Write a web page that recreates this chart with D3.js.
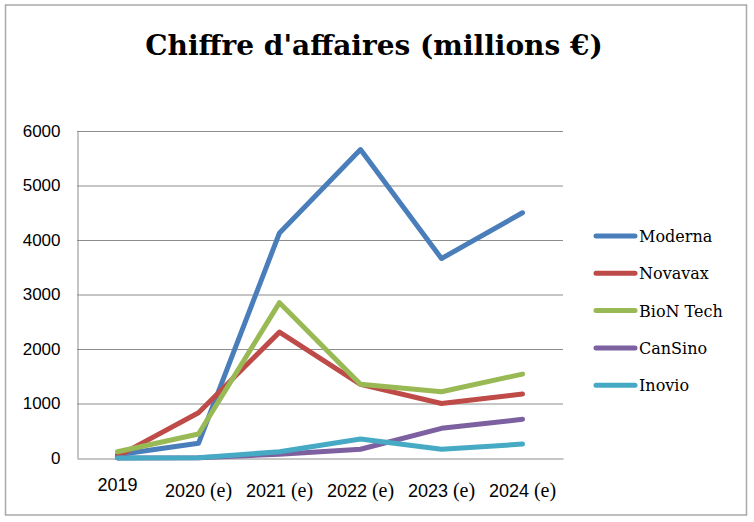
<!DOCTYPE html>
<html><head><meta charset="utf-8">
<script src="https://cdn.jsdelivr.net/npm/d3@7"></script>
<style>body{margin:0;background:#fff}svg{display:block}</style>
</head><body><svg id="c" width="754" height="522"></svg>
<script>
const categories = ["2019", "2020 (e)", "2021 (e)", "2022 (e)", "2023 (e)", "2024 (e)"];
const seriesNames = ["Moderna", "Novavax", "BioN Tech", "CanSino", "Inovio"];
const moderna  = [60, 270, 4130, 5660, 3660, 4500];
const novavax  = [30, 830, 2310, 1350, 1000, 1175];
const biontech = [115, 440, 2850, 1355, 1215, 1540];
const cansino  = [0, 5, 70, 160, 545, 710];
const inovio   = [0, 5, 115, 350, 160, 255];
const yTicks = [0, 1000, 2000, 3000, 4000, 5000, 6000];
const colors = ["#4a7ebb", "#be4b48", "#98b954", "#7d60a0", "#46aac5"];
const title = "Chiffre d'affaires (millions €)";

const values = [moderna, novavax, biontech, cansino, inovio];
const svg = d3.select("#c");
const margin = {left: 77, right: 563, top: 131, bottom: 458};

svg.append("rect").attr("x", 5.5).attr("y", 5).attr("width", 741).attr("height", 510)
  .attr("fill", "#fff").attr("stroke", "#a9a9a9").attr("stroke-width", 1.5);

svg.append("text").attr("x", 374).attr("y", 55).attr("text-anchor", "middle")
  .attr("font-family", "'DejaVu Serif', serif").attr("font-weight", "bold")
  .attr("font-size", 28).attr("fill", "#000").text(title);

const x = d3.scaleBand().domain(categories).range([margin.left, margin.right]);
const y = d3.scaleLinear().domain([0, 6000]).range([margin.bottom, margin.top]);

// gridlines
svg.append("g").selectAll("line").data(yTicks.filter(d => d > 0)).join("line")
  .attr("x1", margin.left).attr("x2", margin.right)
  .attr("y1", d => y(d) + 0.5).attr("y2", d => y(d) + 0.5)
  .attr("stroke", "#8c8c8c").attr("stroke-width", 1);

// y axis
const yAxis = svg.append("g").attr("transform", `translate(${margin.left + 0.5},0)`)
  .call(d3.axisLeft(y).tickValues(yTicks).tickSize(0).tickPadding(17).tickFormat(d3.format("d")));
yAxis.select(".domain").attr("stroke", "#8c8c8c");
yAxis.selectAll("text").attr("font-family", "'Liberation Sans', Arial, sans-serif")
  .attr("font-size", 17).attr("fill", "#000");

// x axis
const xAxis = svg.append("g").attr("transform", `translate(0,${margin.bottom + 0.5})`)
  .call(d3.axisBottom(x).tickSize(0).tickPadding(20));
xAxis.select(".domain").attr("stroke", "#8c8c8c");
xAxis.selectAll("text").attr("font-size", 18).attr("fill", "#000")
  .attr("dy", (d, i) => i === 0 ? "0.71em" : "1.0em")
  .each(function(d) {
    const t = d3.select(this);
    const parts = d.split(" ");
    t.text(null);
    t.append("tspan").attr("font-family", "'Liberation Sans', Arial, sans-serif").text(parts[0]);
    if (parts[1]) t.append("tspan").attr("font-family", "'Liberation Serif', serif").attr("font-size", 20).text(" " + parts[1]);
  });

const line = d3.line().x((d, i) => x(categories[i]) + x.bandwidth() / 2).y(d => y(d));
svg.append("g").selectAll("path").data(values).join("path")
  .attr("d", d => line(d)).attr("fill", "none")
  .attr("stroke", (d, i) => colors[i]).attr("stroke-width", 5)
  .attr("stroke-linejoin", "round").attr("stroke-linecap", "round");

// legend
const lg = svg.append("g").selectAll("g").data(seriesNames).join("g")
  .attr("transform", (d, i) => `translate(596,${236 + i * 37.3})`);
lg.append("line").attr("x1", 0).attr("x2", 39).attr("y1", 0).attr("y2", 0)
  .attr("stroke", (d, i) => colors[i]).attr("stroke-width", 5).attr("stroke-linecap", "round");
lg.append("text").attr("x", 43).attr("y", 6).attr("font-family", "'DejaVu Serif', serif")
  .attr("font-size", 16).attr("fill", "#000").text(d => d);
</script></body></html>
